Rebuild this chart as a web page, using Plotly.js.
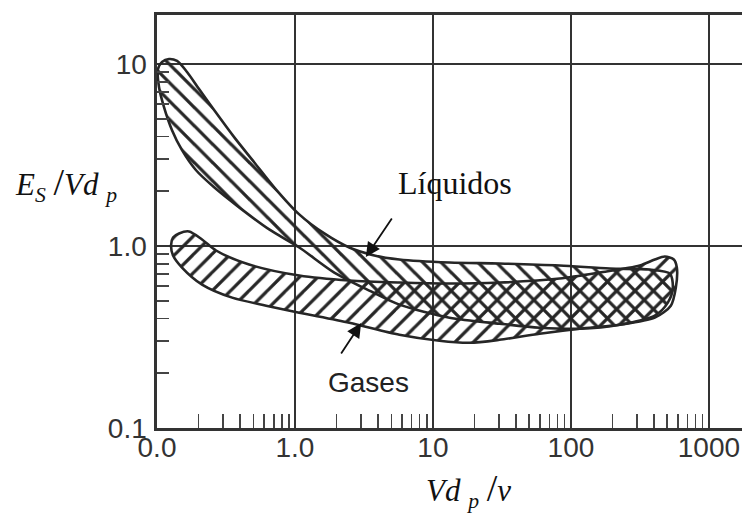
<!DOCTYPE html>
<html>
<head>
<meta charset="utf-8">
<script src="https://cdn.plot.ly/plotly-3.0.1.min.js"></script>
<style>
  html, body { margin: 0; padding: 0; background: #fff; overflow: hidden; }
  #chart { width: 742px; height: 517px; }
</style>
</head>
<body>
<div id="chart"></div>
<script>
// Band of E_S/Vd_p against Vd_p/nu for liquids (outline, going round the band)
const liquidosX = [0.1017, 0.1087, 0.1222, 0.1397, 0.1651, 0.2018, 0.2594, 0.3622, 0.5061, 0.7069,
  1.074, 1.631, 2.476, 3.761, 5.712, 13.18, 30.39, 82.87, 191.1, 373.0, 521.0,
  547.9, 503.9, 405.5,
  225.9, 115.8, 59.32, 30.39, 13.18, 5.712, 3.459, 1.927, 1.074, 0.6502, 0.3938, 0.2594,
  0.1919, 0.1518, 0.1285, 0.1124, 0.1034, 0.1017];
const liquidosY = [9.386, 10.26, 10.65, 10.39, 9.035, 7.281, 5.580, 3.962, 2.885, 2.101,
  1.491, 1.172, 0.981, 0.8866, 0.8427, 0.8113, 0.8011, 0.7810, 0.7516, 0.7421, 0.7055,
  0.5905, 0.4884, 0.4142,
  0.3695, 0.3511, 0.3556, 0.3742, 0.4038, 0.4761, 0.5684, 0.7144, 0.981, 1.233, 1.630, 2.101,
  2.606, 3.360, 4.329, 5.797, 7.468, 9.386];

// Band for gases
const gasesX = [0.1264, 0.1307, 0.1444, 0.1707, 0.2121, 0.2681, 0.4655, 1.074, 2.476, 5.712,
  13.18, 30.39, 82.87, 161.7, 315.6, 405.5, 479.2, 556.9, 585.8,
  576.0, 529.8, 405.5, 225.9, 115.8, 59.32, 30.39, 18.41, 11.15, 5.712, 2.476, 1.074,
  0.6183, 0.3503, 0.2121, 0.1518, 0.1307, 0.1264];
const gasesY = [1.006, 1.114, 1.172, 1.202, 1.086, 0.9445, 0.7910, 0.6878, 0.6457, 0.6295,
  0.6216, 0.6295, 0.6623, 0.7144, 0.7810, 0.8427, 0.8751, 0.8427, 0.7613,
  0.5905, 0.4701, 0.4038, 0.3695, 0.3511, 0.3296, 0.3053, 0.2939, 0.3015, 0.3255, 0.3790, 0.4302,
  0.4701, 0.5202, 0.6137, 0.7613, 0.8866, 1.006];

// Axis ticks
const xTickVals = [0.1, 1, 10, 100, 1000];
const xTickText = ['0.0', '1.0', '10', '100', '1000'];
const yTickVals = [0.1, 1, 10];
const yTickText = ['0.1', '1.0', '10'];

// Minor ticks at 2..9 of every decade
function minorTicks(decades) {
  const out = [];
  decades.forEach(d => { for (let m = 2; m <= 9; m++) out.push(m * d); });
  return out;
}

const ink = '#262626';
const tickFont = { family: 'Liberation Sans, Arial, sans-serif', size: 28, color: '#333' };
const mathFont = { family: 'Liberation Serif, Times New Roman, serif', size: 31, color: '#111' };

const traces = [
  {
    x: gasesX, y: gasesY, type: 'scatter', mode: 'lines',
    fill: 'toself', fillcolor: 'rgba(0,0,0,0)',
    fillpattern: { shape: '/', size: 13, solidity: 0.25, fgcolor: ink, bgcolor: 'rgba(0,0,0,0)' },
    line: { color: ink, width: 2.6, shape: 'spline', smoothing: 0.8 },
    hoverinfo: 'skip'
  },
  {
    x: liquidosX, y: liquidosY, type: 'scatter', mode: 'lines',
    fill: 'toself', fillcolor: 'rgba(0,0,0,0)',
    fillpattern: { shape: '\\', size: 13, solidity: 0.25, fgcolor: ink, bgcolor: 'rgba(0,0,0,0)' },
    line: { color: ink, width: 2.6, shape: 'spline', smoothing: 0.8 },
    hoverinfo: 'skip'
  }
];

const layout = {
  width: 742, height: 517,
  margin: { l: 157, r: 0, t: 15, b: 89 },
  paper_bgcolor: '#fff', plot_bgcolor: '#fff',
  showlegend: false,
  xaxis: {
    type: 'log', range: [-1, 3.24],
    tickmode: 'array', tickvals: xTickVals, ticktext: xTickText,
    tickfont: tickFont, ticks: '', ticklabelstandoff: -7, ticklabeloverflow: 'allow',
    showgrid: true, gridcolor: '#333', gridwidth: 2,
    showline: true, linecolor: '#333', linewidth: 2.6, mirror: true,
    zeroline: false, fixedrange: true,
    minor: { tickmode: 'array', tickvals: minorTicks([0.1, 1, 10, 100, 1000]),
             ticks: 'inside', ticklen: 14, tickwidth: 1.8, tickcolor: '#444', showgrid: false }
  },
  yaxis: {
    type: 'log', range: [-1, 1.269],
    tickmode: 'array', tickvals: yTickVals, ticktext: yTickText,
    tickfont: tickFont, ticks: '', ticklabelstandoff: 2, ticklabeloverflow: 'allow',
    showgrid: true, gridcolor: '#333', gridwidth: 2,
    showline: true, linecolor: '#333', linewidth: 2.6, mirror: false,
    zeroline: false, fixedrange: true,
    minor: { tickmode: 'array', tickvals: minorTicks([0.1, 1, 10]),
             ticks: 'inside', ticklen: 12, tickwidth: 1.8, tickcolor: '#444', showgrid: false }
  },
  annotations: [
    { xref: 'paper', yref: 'paper', x: -0.155, y: 0.59, xanchor: 'center', yanchor: 'middle',
      showarrow: false, font: mathFont,
      text: '<i>E</i><sub><i>S</i></sub> <span style="font-size:38px">/</span><i>Vd</i> <sub><i>p</i></sub>' },
    { xref: 'paper', yref: 'paper', x: 0.532, y: -0.15, xanchor: 'center', yanchor: 'middle',
      showarrow: false, font: mathFont,
      text: '<i>Vd</i> <sub><i>p</i></sub> <span style="font-size:38px">/</span><i>ν</i>' },
    { xref: 'paper', yref: 'paper', x: 0.51, y: 0.593, xanchor: 'center', yanchor: 'middle',
      showarrow: false, font: { family: 'Liberation Serif, Times New Roman, serif', size: 32, color: '#111' },
      text: 'Líquidos' },
    { xref: 'paper', yref: 'paper', x: 0.362, y: 0.111, xanchor: 'center', yanchor: 'middle',
      showarrow: false, font: { family: 'Liberation Sans, Arial, sans-serif', size: 28, color: '#222' },
      text: 'Gases' },
    { xref: 'paper', yref: 'paper', x: 0.357, y: 0.414, text: '', showarrow: true,
      ax: 27, ay: -40, arrowhead: 2, arrowsize: 1.6, arrowwidth: 1.8, arrowcolor: '#111', standoff: 0 },
    { xref: 'paper', yref: 'paper', x: 0.349, y: 0.254, text: '', showarrow: true,
      ax: -21, ay: 32, arrowhead: 2, arrowsize: 1.6, arrowwidth: 1.8, arrowcolor: '#111', standoff: 0 }
  ]
};

Plotly.newPlot('chart', traces, layout, { staticPlot: true, displayModeBar: false });
</script>
</body>
</html>
